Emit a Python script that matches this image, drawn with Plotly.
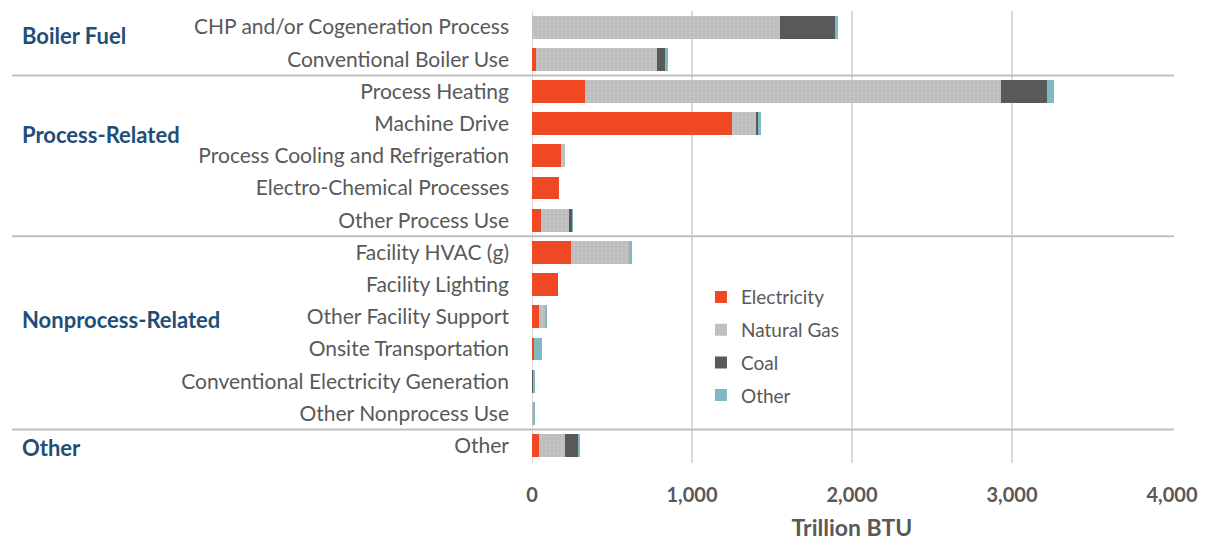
import plotly.graph_objects as go

categories = [
    "CHP and/or Cogeneration Process",
    "Conventional Boiler Use",
    "Process Heating",
    "Machine Drive",
    "Process Cooling and Refrigeration",
    "Electro-Chemical Processes",
    "Other Process Use",
    "Facility HVAC (g)",
    "Facility Lighting",
    "Other Facility Support",
    "Onsite Transportation",
    "Conventional Electricity Generation",
    "Other Nonprocess Use",
    "Other",
]
electricity = [0, 23, 333, 1250, 181, 167, 56, 244, 160, 44, 10, 0, 0, 44]
natural_gas = [1547, 758, 2598, 156, 25, 0, 173, 368, 0, 39, 0, 0, 8, 164]
coal = [347, 50, 286, 11, 0, 0, 21, 0, 0, 0, 0, 10, 0, 84]
other = [17, 17, 46, 12, 0, 0, 6, 11, 0, 9, 55, 7, 12, 6]

series_names = ["Electricity", "Natural Gas", "Coal", "Other"]
series_values = [electricity, natural_gas, coal, other]
series_colors = ["#EF4823", "#BDBDBD", "#595959", "#7FBAC3"]

group_labels = ["Boiler Fuel", "Process-Related", "Nonprocess-Related", "Other"]
group_label_pos = [0.25, 3.34, 9.07, 13.06]
separator_pos = [1.5, 6.5, 12.5]

x_tickvals = [0, 1000, 2000, 3000, 4000]
x_ticktext = ["0", "1,000", "2,000", "3,000", "4,000"]

FONT = "Lato"
GRAY = "#595959"

fig = go.Figure()
for name, vals, col in zip(series_names, series_values, series_colors):
    marker = dict(color=col, line=dict(width=0))
    if name == "Natural Gas":
        marker["pattern"] = dict(shape=".", fgcolor="#CFCFCF", bgcolor=col, size=4, solidity=0.25)
    fig.add_trace(go.Bar(
        y=categories, x=vals, name=name, orientation="h",
        marker=marker, width=0.71, legendgroup=name,
    ))

shapes = []
for p in separator_pos:
    shapes.append(dict(type="line", xref="paper", yref="y", x0=-0.8125, x1=1.003,
                       y0=p, y1=p, line=dict(color="#BFBFBF", width=2), layer="above"))

annotations = []
for lab, p in zip(group_labels, group_label_pos):
    annotations.append(dict(text=lab, xref="paper", yref="y", x=-0.800, y=p,
                            xanchor="left", yanchor="middle", showarrow=False,
                            font=dict(family=FONT, size=22, color="#1F4E79", weight="bold")))

fig.update_layout(
    width=1207, height=542,
    margin=dict(l=532, r=35, t=11, b=79),
    barmode="stack",
    plot_bgcolor="white", paper_bgcolor="white",
    font=dict(family=FONT, color=GRAY),
    shapes=shapes,
    annotations=annotations,
    legend=dict(x=0.264, y=0.409, xanchor="left", yanchor="top",
                traceorder="grouped", tracegroupgap=5, itemwidth=30,
                font=dict(family=FONT, size=19, color=GRAY),
                bgcolor="rgba(0,0,0,0)"),
    xaxis=dict(range=[0, 4000], tickvals=x_tickvals, ticktext=x_ticktext,
               showgrid=True, gridcolor="#D9D9D9", gridwidth=2,
               zeroline=False, showline=False, ticks="",
               ticklabelstandoff=18, automargin=False,
               tickfont=dict(family=FONT, size=20, color=GRAY, weight="bold"),
               title=dict(text="Trillion BTU", standoff=14,
                          font=dict(family=FONT, size=23, color=GRAY, weight="bold"))),
    yaxis=dict(categoryorder="array", categoryarray=categories, autorange="reversed",
               showgrid=False, zeroline=False, showline=False, ticks="",
               ticklabelstandoff=22, automargin=False,
               tickfont=dict(family=FONT, size=21, color=GRAY)),
)
fig.add_shape(type="line", xref="x", yref="paper", x0=0, x1=0, y0=0, y1=1,
              line=dict(color="#D9D9D9", width=2), layer="below")

fig.write_html("out.html", config={"displayModeBar": False},
               post_script="document.body.style.margin='0';")
